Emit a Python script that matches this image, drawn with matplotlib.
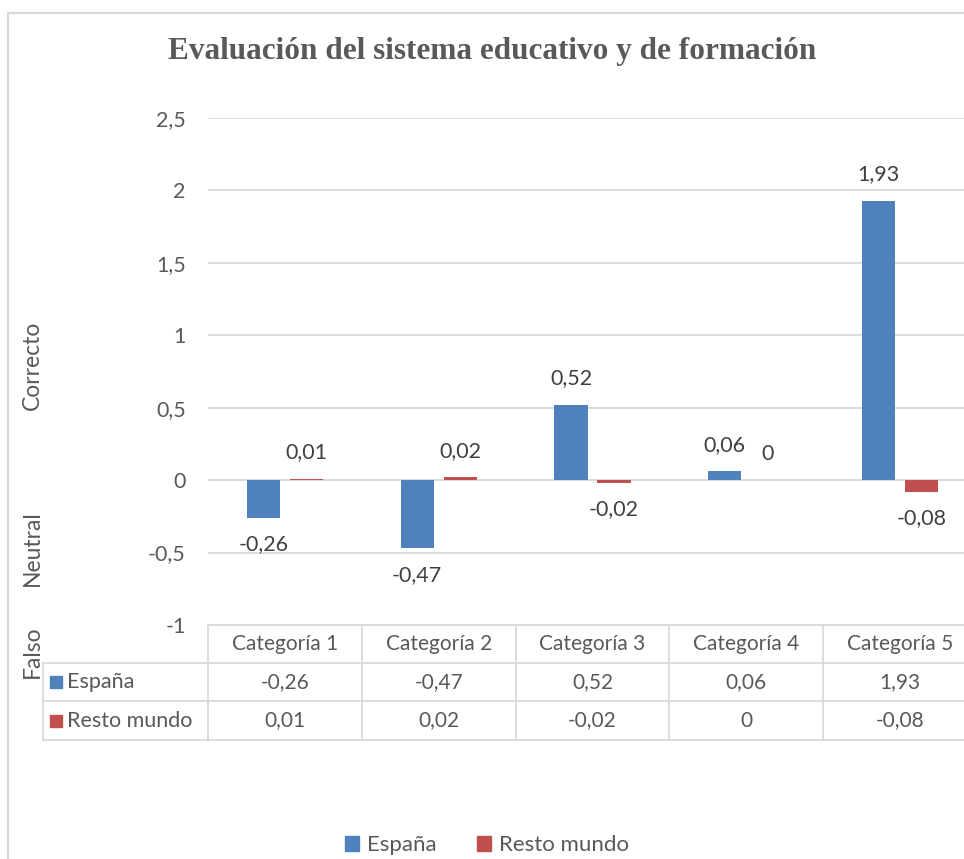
import numpy as np
import matplotlib
matplotlib.use("Agg")
import matplotlib.pyplot as plt
from matplotlib.patches import Rectangle, Patch

plt.rcParams['font.family'] = ['Lato', 'DejaVu Sans']

# datos
categorias = ["Categoría 1", "Categoría 2", "Categoría 3", "Categoría 4", "Categoría 5"]
series = ["España", "Resto mundo"]
espana = [-0.26, -0.47, 0.52, 0.06, 1.93]
resto = [0.01, 0.02, -0.02, 0, -0.08]
yticks = [-1, -0.5, 0, 0.5, 1, 1.5, 2, 2.5]
lados = ["Correcto", "Neutral", "Falso"]

azul = "#4F81BD"
rojo = "#C0504D"
gris = "#595959"
linea = "#d9d9d9"


def coma(v):
    return f"{v:g}".replace(".", ",")


W, H = 964, 859
fig = plt.figure(figsize=(W / 100, H / 100), dpi=100)
ax = fig.add_axes([208 / W, 1 - 625 / H, 769 / W, 507 / H])

x = np.arange(len(categorias))
off, ancho = 0.14, 0.215
b1 = ax.bar(x - off, espana, ancho, color=azul, zorder=3)
b2 = ax.bar(x + off, resto, ancho, color=rojo, zorder=3)

# etiquetas de datos
for barras, vals in ((b1, espana), (b2, resto)):
    for b, v in zip(barras, vals):
        dy = 19 if v >= 0 else -19
        ax.annotate(coma(v), (b.get_x() + b.get_width() / 2, v),
                    xytext=(0, dy), textcoords="offset points",
                    ha="center", va="center", fontsize=15.5, color="#404040")

ax.set_xlim(-0.5, len(categorias) - 0.5)
ax.set_ylim(-1, 2.5)
ax.set_yticks(yticks)
ax.set_yticklabels([coma(v) for v in yticks], fontsize=15.5, color=gris)
ax.tick_params(axis="y", length=0, pad=16)
ax.tick_params(axis="x", length=0, labelbottom=False)
ax.yaxis.grid(True, color=linea, lw=1.3)
ax.set_axisbelow(True)
for s in ax.spines.values():
    s.set_visible(False)

# tabla de datos
yl = [0, -0.075, -0.15, -0.227]
xl = -0.2146
ta = ax.transAxes
kw = dict(color=linea, lw=1.3, transform=ta, clip_on=False)
ax.plot([0, 1], [yl[0], yl[0]], **kw)
for y in yl[1:]:
    ax.plot([xl, 1], [y, y], **kw)
for i in range(len(categorias) + 1):
    xx = i / len(categorias)
    ax.plot([xx, xx], [yl[0], yl[3]], **kw)
ax.plot([xl, xl], [yl[1], yl[3]], **kw)

tx = ax.get_xaxis_transform()
for i, c in enumerate(categorias):
    ax.text(i, (yl[0] + yl[1]) / 2, c, transform=tx, ha="center", va="center",
            fontsize=15, color=gris)
    ax.text(i, (yl[1] + yl[2]) / 2, coma(espana[i]), transform=tx, ha="center",
            va="center", fontsize=15, color=gris)
    ax.text(i, (yl[2] + yl[3]) / 2, coma(resto[i]), transform=tx, ha="center",
            va="center", fontsize=15, color=gris)

for k, (nombre, col) in enumerate(zip(series, [azul, rojo])):
    yc = (yl[k + 1] + yl[k + 2]) / 2
    ax.plot([-0.1977], [yc], marker="s", ms=9, color=col, transform=ta,
            clip_on=False, lw=0)
    ax.text(-0.1834, yc, nombre, transform=ta, ha="left", va="center",
            fontsize=15.5, color=gris)

# textos laterales
for t, yc in zip(lados, [365, 548, 652]):
    fig.text(32 / W, 1 - yc / H, t, rotation=90, ha="center", va="center",
             fontsize=16.5, color=gris)

fig.text(492 / W, 1 - 52 / H, "Evaluación del sistema educativo y de formación",
         ha="center", va="center", fontsize=22.5, fontweight="bold",
         family="Liberation Serif", color=gris)

handles = [Patch(color=azul), Patch(color=rojo)]
fig.legend(handles, series, loc="center", bbox_to_anchor=(487 / W, 1 - 845 / H),
           ncol=2, frameon=False, fontsize=16, handlelength=0.65, handleheight=0.65,
           handletextpad=0.35, columnspacing=1.8, labelcolor=gris)

fig.patches.append(Rectangle((8 / W, -0.1), 1.2, 1 - 13 / H + 0.1, fill=False,
                             edgecolor=linea, lw=1.6, transform=fig.transFigure))

fig.savefig("out.png", dpi=100)
